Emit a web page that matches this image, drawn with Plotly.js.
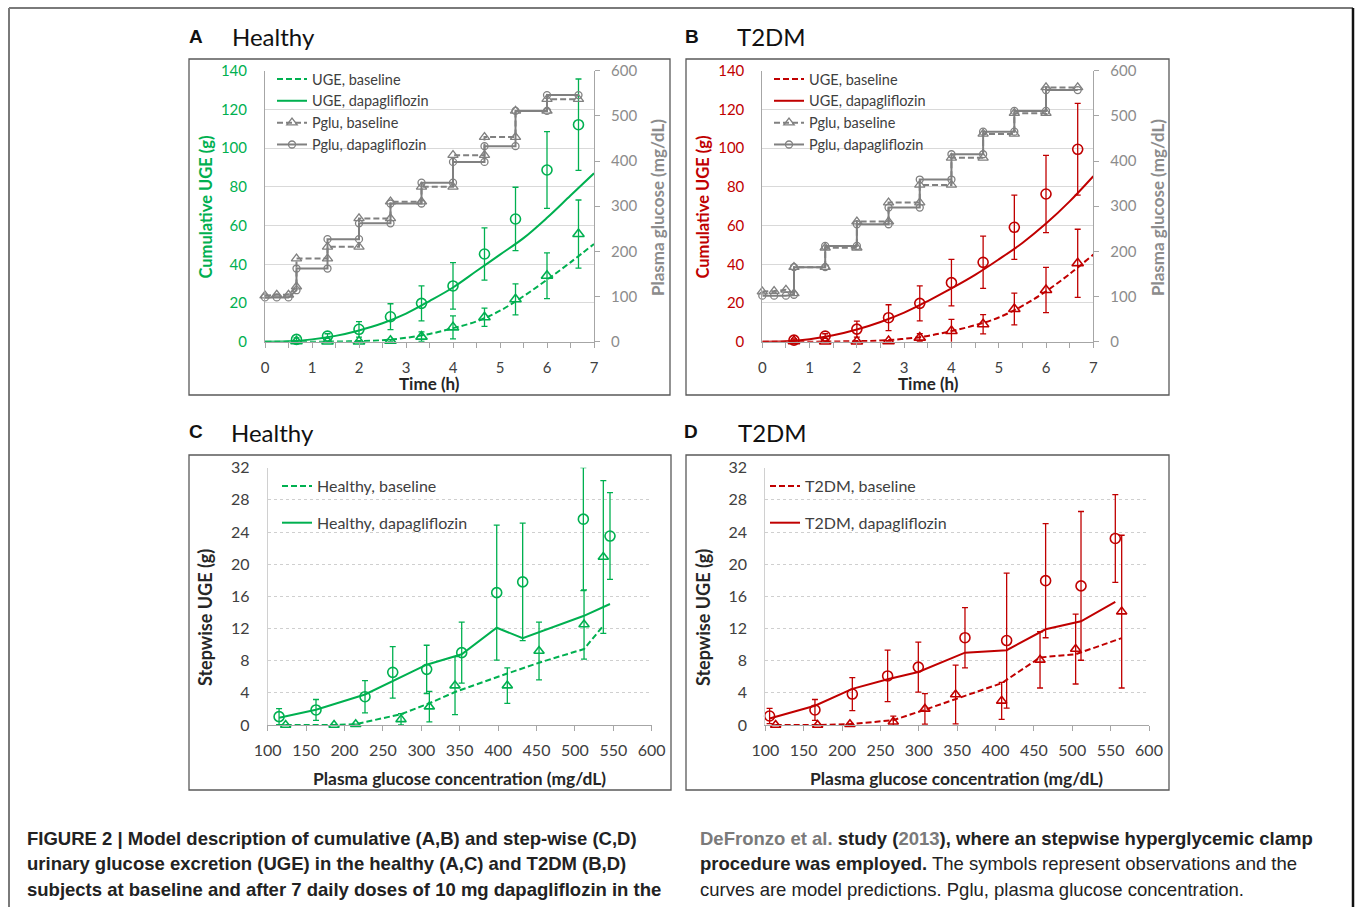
<!DOCTYPE html>
<html><head><meta charset="utf-8">
<script src="https://cdn.plot.ly/plotly-3.0.1.min.js"></script>
<style>html,body{margin:0;padding:0;background:#fff;}#chart{width:1355px;height:907px;}</style>
</head><body><div id="chart"></div>
<script>
// ---------------- data ----------------
// Panels A/B: cumulative UGE vs time
const obsTime = [0.67, 1.33, 2, 2.67, 3.33, 4, 4.67, 5.33, 6, 6.67];
const healthyUgeDapa    = [1.2, 2.9, 6.4, 12.9, 19.8, 28.8, 45.3, 63.4, 88.7, 112.1];
const healthyUgeDapaErr = [0.8, 1.2, 4.0, 6.7, 9.0, 12.0, 13.5, 16.4, 19.8, 23.6];
const healthyUgeBase    = [0.2, 0.1, 0.1, 0.5, 2.6, 7.4, 12.6, 21.9, 34.1, 55.6];
const healthyUgeBaseErr = [0, 0, 0, 0.5, 2.5, 5.9, 4.7, 8.0, 11.8, 17.6];
const t2dmUgeDapa    = [0.8, 2.9, 6.5, 12.4, 19.8, 30.5, 41.0, 59.1, 76.3, 99.4];
const t2dmUgeDapaErr = [0.6, 1.2, 4.1, 6.7, 9.0, 12.0, 13.5, 16.6, 20.0, 23.7];
const t2dmUgeBase    = [0.3, 0.1, 0.1, 0.3, 2.1, 5.5, 9.0, 16.9, 26.7, 40.5];
const t2dmUgeBaseErr = [0, 0, 0, 0.3, 2.1, 6.0, 5.0, 8.2, 11.7, 17.6];

const modelTime = [0, 0.5, 1, 1.5, 2, 2.5, 3, 3.5, 4, 4.5, 5, 5.5, 6, 6.5, 7];
const healthyModelDapa = [0, 0.2, 1.2, 3.0, 5.8, 9.5, 14.5, 21.0, 28.0, 36.5, 45.0, 53.5, 64.0, 75.5, 87.0];
const healthyModelBase = [0, 0, 0, 0.1, 0.3, 0.8, 2.0, 4.0, 7.0, 10.5, 16.0, 23.5, 32.0, 41.0, 50.5];
const t2dmModelDapa = [0, 0.2, 1.3, 3.3, 6.3, 10.2, 15.0, 21.0, 27.5, 34.5, 42.5, 51.0, 61.0, 72.5, 85.5];
const t2dmModelBase = [0, 0, 0, 0.1, 0.3, 0.6, 1.5, 3.0, 5.5, 8.5, 12.5, 18.5, 26.0, 35.0, 45.0];

// Plasma glucose clamp steps (mg/dL)
const pgluPreTime  = [0, 0.25, 0.5, 0.67];
const pgluStepTime = [0.67, 1.33, 2, 2.67, 3.33, 4, 4.67, 5.33, 6, 6.67];
const healthyPgluBasePre    = [102, 104, 104, 122];
const healthyPgluBaseLevels = [184, 210, 273, 310, 343, 413, 453, 511, 537];
const healthyPgluDapaPre    = [98, 98, 98, 114];
const healthyPgluDapaLevels = [162, 227, 262, 306, 352, 398, 433, 511, 546];
const t2dmPgluBasePre    = [111, 112, 115, 107];
const t2dmPgluBaseLevels = [165, 208, 266, 308, 347, 407, 460, 506, 563];
const t2dmPgluDapaPre    = [102, 102, 102, 104];
const t2dmPgluDapaLevels = [165, 212, 260, 297, 359, 415, 465, 511, 557];

// Panels C/D: stepwise UGE vs plasma glucose
const healthyStepGluDapa = [114.8, 162.9, 226.7, 262.8, 307, 352.6, 398.2, 432, 511, 545.7];
const healthyStepUgeDapa = [1.04, 1.87, 3.52, 6.55, 6.92, 9.0, 16.46, 17.8, 25.6, 23.5];
const healthyStepUgeDapaErrUp   = [1.0, 1.3, 2.0, 3.2, 3.0, 3.8, 8.4, 7.3, 6.4, 5.4];
const healthyStepUgeDapaErrDown = [1.0, 1.3, 2.0, 3.2, 3.0, 3.8, 8.4, 7.3, 8.9, 5.4];
const healthyModelStepDapa = [0.9, 1.9, 3.8, 5.5, 7.5, 8.8, 12.1, 10.8, 13.55, 15.05];
const healthyStepGluBase = [123.4, 186.4, 214.6, 273.6, 310.5, 343.9, 412, 453.3, 511.9, 537];
const healthyStepUgeBase = [0, 0, 0.1, 0.7, 2.28, 4.9, 4.9, 9.2, 12.5, 20.9];
const healthyStepUgeBaseErr = [0, 0, 0, 0.7, 1.9, 3.6, 2.2, 3.6, 4.3, 9.5];
const healthyModelStepBase = [0, 0, 0.1, 1.35, 2.7, 4.1, 6.4, 7.75, 9.45, 12.35];

const t2dmStepGluDapa = [105.6, 164.7, 213.4, 259.4, 299.4, 360.2, 414.5, 465.3, 511.4, 556.1];
const t2dmStepUgeDapa = [1.12, 1.87, 3.85, 6.1, 7.2, 10.86, 10.5, 17.95, 17.3, 23.2];
const t2dmStepUgeDapaErr = [0.95, 1.3, 2.05, 3.2, 3.1, 3.75, 8.4, 7.1, 9.25, 5.45];
const t2dmModelStepDapa = [0.8, 2.4, 4.5, 5.7, 6.6, 9.0, 9.3, 11.9, 12.9, 15.3];
const t2dmStepGluBase = [113.5, 168.2, 210.3, 266.8, 308, 348, 408, 458, 504.4, 564.4];
const t2dmStepUgeBase = [0, 0, 0.1, 0.4, 2.0, 3.8, 3.0, 8.1, 9.45, 14.1];
const t2dmStepUgeBaseErr = [0, 0, 0, 0.7, 1.9, 3.65, 2.3, 3.5, 4.35, 9.5];
const t2dmModelStepBase = [0, 0, 0.1, 0.6, 1.9, 3.2, 5.2, 8.4, 8.8, 10.8];

// ---------------- styling ----------------
const W = 1355, H = 907;
const px = v => v / W, py = v => 1 - v / H;
const GREEN = '#00b050', RED = '#c00000', GRAY = '#808080', AX = '#a6a6a6', GRID = '#d9d9d9', TXT = '#404040';
const FONT = 'Lato, "Open Sans", sans-serif';
const CAP = '"Liberation Sans", Arial, sans-serif';
const DASH = '6px,3px';

function stepPath(preT, preV, stepT, levels) {
  const xs = preT.slice(), ys = preV.slice();
  for (let i = 0; i < levels.length; i++) { xs.push(stepT[i], stepT[i + 1]); ys.push(levels[i], levels[i]); }
  return { x: xs, y: ys };
}

function timePanel(xa, ya, ya2, legend, color, mBase, mDapa, oBase, oBaseErr, oDapa, oDapaErr, pBase, pDapa) {
  return [
    { x: modelTime, y: mBase, xaxis: xa, yaxis: ya, mode: 'lines', name: 'UGE, baseline', legend: legend,
      line: { color: color, width: 2, dash: DASH, shape: 'spline' } },
    { x: modelTime, y: mDapa, xaxis: xa, yaxis: ya, mode: 'lines', name: 'UGE, dapagliflozin', legend: legend,
      line: { color: color, width: 2, shape: 'spline' } },
    { x: pBase.x, y: pBase.y, xaxis: xa, yaxis: ya2, mode: 'lines+markers', name: 'Pglu, baseline', legend: legend,
      cliponaxis: false, line: { color: GRAY, width: 2, dash: DASH },
      marker: { symbol: 'triangle-up-open', size: 9, color: GRAY, line: { width: 1.3 } } },
    { x: pDapa.x, y: pDapa.y, xaxis: xa, yaxis: ya2, mode: 'lines+markers', name: 'Pglu, dapagliflozin', legend: legend,
      cliponaxis: false, line: { color: GRAY, width: 2 },
      marker: { symbol: 'circle-open', size: 7, color: GRAY, line: { width: 1.3 } } },
    { x: obsTime, y: oBase, xaxis: xa, yaxis: ya, mode: 'markers', showlegend: false, cliponaxis: false,
      marker: { symbol: 'triangle-up-open', size: 10, color: color, line: { width: 1.6 } },
      error_y: { type: 'data', array: oBaseErr, color: color, thickness: 1.3, width: 3 } },
    { x: obsTime, y: oDapa, xaxis: xa, yaxis: ya, mode: 'markers', showlegend: false, cliponaxis: false,
      marker: { symbol: 'circle-open', size: 10, color: color, line: { width: 1.6 } },
      error_y: { type: 'data', array: oDapaErr, color: color, thickness: 1.3, width: 3 } }
  ];
}

function gluPanel(xa, ya, legend, color, label, gB, mB, uB, eB, gD, mD, uD, eDup, eDdown) {
  return [
    { x: gB, y: mB, xaxis: xa, yaxis: ya, mode: 'lines', name: label + ', baseline', legend: legend, legendgroup: 'b',
      line: { color: color, width: 2, dash: DASH } },
    { x: gD, y: mD, xaxis: xa, yaxis: ya, mode: 'lines', name: label + ', dapagliflozin', legend: legend, legendgroup: 'd',
      line: { color: color, width: 2 } },
    { x: gB, y: uB, xaxis: xa, yaxis: ya, mode: 'markers', showlegend: false, cliponaxis: false,
      marker: { symbol: 'triangle-up-open', size: 9, color: color, line: { width: 1.6 } },
      error_y: { type: 'data', array: eB, color: color, thickness: 1.3, width: 3 } },
    { x: gD, y: uD, xaxis: xa, yaxis: ya, mode: 'markers', showlegend: false, cliponaxis: false,
      marker: { symbol: 'circle-open', size: 10, color: color, line: { width: 1.6 } },
      error_y: { type: 'data', array: eDup, arrayminus: eDdown, symmetric: false, color: color, thickness: 1.3, width: 3 } }
  ];
}

const traces = [].concat(
  timePanel('x', 'y', 'y2', 'legend', GREEN, healthyModelBase, healthyModelDapa, healthyUgeBase, healthyUgeBaseErr,
    healthyUgeDapa, healthyUgeDapaErr,
    stepPath(pgluPreTime, healthyPgluBasePre, pgluStepTime, healthyPgluBaseLevels),
    stepPath(pgluPreTime, healthyPgluDapaPre, pgluStepTime, healthyPgluDapaLevels)),
  timePanel('x2', 'y3', 'y4', 'legend2', RED, t2dmModelBase, t2dmModelDapa, t2dmUgeBase, t2dmUgeBaseErr,
    t2dmUgeDapa, t2dmUgeDapaErr,
    stepPath(pgluPreTime, t2dmPgluBasePre, pgluStepTime, t2dmPgluBaseLevels),
    stepPath(pgluPreTime, t2dmPgluDapaPre, pgluStepTime, t2dmPgluDapaLevels)),
  gluPanel('x3', 'y5', 'legend3', GREEN, 'Healthy', healthyStepGluBase, healthyModelStepBase, healthyStepUgeBase,
    healthyStepUgeBaseErr, healthyStepGluDapa, healthyModelStepDapa, healthyStepUgeDapa,
    healthyStepUgeDapaErrUp, healthyStepUgeDapaErrDown),
  gluPanel('x4', 'y6', 'legend4', RED, 'T2DM', t2dmStepGluBase, t2dmModelStepBase, t2dmStepUgeBase,
    t2dmStepUgeBaseErr, t2dmStepGluDapa, t2dmModelStepDapa, t2dmStepUgeDapa,
    t2dmStepUgeDapaErr, t2dmStepUgeDapaErr)
);

function timeX(x0, x1, anchor) {
  return { domain: [px(x0), px(x1)], anchor: anchor, range: [0, 7], dtick: 1, tick0: 0,
    showline: true, linecolor: AX, linewidth: 1, ticks: 'outside', ticklen: 5, tickcolor: AX,
    minor: { dtick: 0.5, ticks: 'outside', ticklen: 5, tickcolor: AX, showgrid: false },
    showgrid: false, zeroline: false, ticklabelstandoff: 7,
    tickfont: { family: FONT, size: 15, color: TXT }, automargin: false, fixedrange: true };
}
function ugeY(anchor, color) {
  return { domain: [py(341.7), py(70.7)], anchor: anchor, range: [0, 140], dtick: 20, tick0: 0,
    showgrid: true, gridcolor: GRID, gridwidth: 1, showline: true, linecolor: AX, ticks: '', zeroline: false,
    ticklabelstandoff: 14, tickfont: { family: FONT, size: 15, color: color }, automargin: false, fixedrange: true };
}
function pgluY(anchor, over) {
  return { overlaying: over, side: 'right', anchor: anchor, range: [0, 600], dtick: 100, tick0: 0,
    showgrid: false, showline: true, linecolor: AX, ticks: 'outside', ticklen: 5, tickcolor: AX, zeroline: false,
    ticklabelstandoff: 8, tickfont: { family: FONT, size: 15, color: '#8c8c8c' }, automargin: false, fixedrange: true };
}
function gluX(x0, x1, anchor) {
  return { domain: [px(x0), px(x1)], anchor: anchor, range: [100, 600], dtick: 50, tick0: 100,
    showline: true, linecolor: AX, ticks: 'outside', ticklen: 5, tickcolor: AX, showgrid: false, zeroline: false,
    ticklabelstandoff: 6, tickfont: { family: FONT, size: 16, color: TXT }, automargin: false, fixedrange: true };
}
function stepY(anchor) {
  return { domain: [py(725), py(467.7)], anchor: anchor, range: [0, 32], dtick: 4, tick0: 0,
    showgrid: true, gridcolor: '#cfcfcf', griddash: 'dot', showline: true, linecolor: '#d0d0d0', ticks: '',
    zeroline: false, ticklabelstandoff: 14, tickfont: { family: FONT, size: 16, color: TXT },
    automargin: false, fixedrange: true };
}
function legendAt(x, y, size, gap) {
  return { x: px(x), y: py(y), xanchor: 'left', yanchor: 'top', bgcolor: 'rgba(0,0,0,0)', borderwidth: 0,
    font: { family: FONT, size: size, color: TXT }, traceorder: gap ? 'grouped' : 'normal',
    tracegroupgap: gap || 0 };
}

function ann(text, x, y, size, color, opts) {
  return Object.assign({ text: text, x: px(x), y: py(y), xref: 'paper', yref: 'paper', showarrow: false,
    xanchor: 'center', yanchor: 'middle', font: { family: FONT, size: size, color: color } }, opts || {});
}
function capLine(text, x, y) {
  return ann(text, x, y, 18.5, '#222', { xanchor: 'left', font: { family: CAP, size: 18.5, color: '#222' } });
}

const annotations = [
  ann('<b>A</b>', 196, 36, 19, '#111', { font: { family: CAP, size: 19, color: '#111' } }),
  ann('Healthy', 230, 36, 24, '#111', { xanchor: 'left' }),
  ann('<b>B</b>', 692, 36, 19, '#111', { font: { family: CAP, size: 19, color: '#111' } }),
  ann('T2DM', 735, 36, 24, '#111', { xanchor: 'left' }),
  ann('<b>C</b>', 196, 431, 19, '#111', { font: { family: CAP, size: 19, color: '#111' } }),
  ann('Healthy', 229, 432, 24, '#111', { xanchor: 'left' }),
  ann('<b>D</b>', 691, 431, 19, '#111', { font: { family: CAP, size: 19, color: '#111' } }),
  ann('T2DM', 736, 432, 24, '#111', { xanchor: 'left' }),
  // axis titles
  ann('<b>Cumulative UGE (g)</b>', 205, 207.5, 16.5, GREEN, { textangle: -90 }),
  ann('<b>Plasma glucose (mg/dL)</b>', 657, 208, 17, '#8c8c8c', { textangle: -90 }),
  ann('<b>Time (h)</b>', 430, 383, 17, '#262626'),
  ann('<b>Cumulative UGE (g)</b>', 702, 207.5, 16.5, RED, { textangle: -90 }),
  ann('<b>Plasma glucose (mg/dL)</b>', 1157, 208, 17, '#8c8c8c', { textangle: -90 }),
  ann('<b>Time (h)</b>', 928, 383, 17, '#262626'),
  ann('<b>Stepwise UGE (g)</b>', 205, 618, 18, '#262626', { textangle: -90 }),
  ann('<b>Plasma glucose concentration (mg/dL)</b>', 459, 778, 17.4, '#262626'),
  ann('<b>Stepwise UGE (g)</b>', 703, 618, 18, '#262626', { textangle: -90 }),
  ann('<b>Plasma glucose concentration (mg/dL)</b>', 956, 778, 17.4, '#262626'),
  // caption
  capLine('<b>FIGURE 2 | Model description of cumulative (A,B) and step-wise (C,D)</b>', 25, 838),
  capLine('<b>urinary glucose excretion (UGE) in the healthy (A,C) and T2DM (B,D)</b>', 25, 863),
  capLine('<b>subjects at baseline and after 7 daily doses of 10 mg dapagliflozin in the</b>', 25, 889),
  capLine('<b><span style="color:#7a7a7a">DeFronzo et al.</span> study (<span style="color:#7a7a7a">2013</span>), where an stepwise hyperglycemic clamp</b>', 698, 838),
  capLine('<b>procedure was employed.</b> The symbols represent observations and the', 698, 863),
  capLine('curves are model predictions. Pglu, plasma glucose concentration.', 698, 889)
];

function box(x0, y0, x1, y1, color, w) {
  return { type: 'rect', xref: 'paper', yref: 'paper', x0: px(x0), x1: px(x1), y0: py(y1), y1: py(y0),
    line: { color: color, width: w }, fillcolor: 'rgba(0,0,0,0)', layer: 'below' };
}
function seg(x0, y0, x1, y1, color, w) {
  return { type: 'line', xref: 'paper', yref: 'paper', x0: px(x0), x1: px(x1), y0: py(y0), y1: py(y1),
    line: { color: color, width: w } };
}
const shapes = [
  box(189, 59, 670, 395, '#595959', 1.3),
  box(686, 59, 1169, 395, '#595959', 1.3),
  box(189, 455, 671, 790, '#595959', 1.3),
  box(686, 455, 1169, 790, '#595959', 1.3),
  seg(9, 8, 1353, 8, '#7a7a7a', 2),
  seg(9, 8, 9, 907, '#7a7a7a', 2),
  seg(1353, 8, 1353, 907, '#111', 2.5)
];

const layout = {
  width: W, height: H, margin: { l: 0, r: 0, t: 0, b: 0 }, paper_bgcolor: '#fff', plot_bgcolor: 'rgba(0,0,0,0)',
  font: { family: FONT, color: TXT },
  xaxis: timeX(265, 594, 'y'),
  yaxis: ugeY('x', GREEN),
  yaxis2: pgluY('x', 'y'),
  xaxis2: timeX(762.3, 1093.3, 'y3'),
  yaxis3: ugeY('x2', RED),
  yaxis4: pgluY('x2', 'y3'),
  xaxis3: gluX(267.7, 651.7, 'y5'),
  yaxis5: stepY('x3'),
  xaxis4: gluX(765.3, 1149, 'y6'),
  yaxis6: stepY('x4'),
  legend: legendAt(272, 63, 14.5),
  legend2: legendAt(769, 63, 14.5),
  legend3: legendAt(277, 469, 16, 13),
  legend4: legendAt(765, 469, 16, 13),
  showlegend: true,
  annotations: annotations,
  shapes: shapes
};

Plotly.newPlot('chart', traces, layout, { staticPlot: true, displayModeBar: false });
</script></body></html>
